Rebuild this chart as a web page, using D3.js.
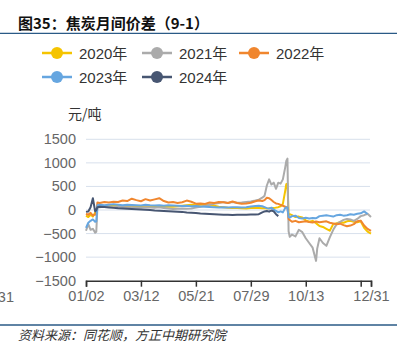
<!DOCTYPE html>
<html><head><meta charset="utf-8">
<script src="https://cdn.jsdelivr.net/npm/d3@7"></script>
<style>
html,body{margin:0;padding:0;background:#fff;}
svg{display:block;font-family:"Liberation Sans","Noto Sans CJK SC",sans-serif;}
</style></head>
<body><svg id="c" width="405" height="350"></svg>
<script>
// trading-day index within the year
const days = [0,2,4,6,8,9,10,12,16,20,24,28,32,36,40,44,48,52,56,60,64,68,72,76,80,84,88,92,96,100,104,108,112,116,120,124,128,132,136,140,144,148,151,154,156,158,160,162,164,166,168,170,172,174,175,176,177,178,180,183,186,189,192,195,198,201,202,204,207,210,213,216,219,222,225,228,231,234,237,240,243,246,249];
const y2020 = [-120,-150,-100,-140,-60,-80,80,90,85,80,90,85,80,90,85,80,75,85,80,75,80,70,75,70,80,90,100,110,100,110,115,110,90,70,60,50,45,40,35,30,40,45,40,35,40,30,35,45,40,50,60,80,130,400,550,560,-100,-90,-110,-150,-140,-160,-220,-250,-230,-280,-300,-340,-360,-400,-440,-300,-280,-260,-270,-240,-230,-250,-260,-240,-380,-460,-500];
const y2021 = [-440,-300,-420,-400,-480,-460,70,60,80,70,60,70,65,60,60,55,50,60,55,50,60,40,30,20,25,30,25,30,50,70,90,110,130,150,170,150,170,155,160,170,180,200,220,260,300,520,650,540,580,450,580,560,650,900,1040,1090,-450,-570,-520,-560,-420,-470,-600,-700,-800,-1080,-820,-600,-700,-760,-580,-420,-300,-250,-210,-190,-200,-230,-190,-130,-110,-80,-150];
const y2022 = [-80,-100,-60,-120,-90,-100,160,150,170,160,175,170,200,190,240,210,185,230,200,225,250,190,160,170,150,165,200,175,135,140,130,160,150,170,165,150,180,150,135,140,155,185,200,190,210,260,250,210,170,140,130,110,90,70,60,50,-190,-210,-250,-230,-260,-250,-240,-255,-265,-245,-250,-260,-250,-240,-270,-285,-300,-290,-320,-345,-330,-300,-240,-225,-330,-400,-445];
const y2023 = [-380,-270,-230,-200,-250,-240,100,110,100,110,120,110,100,110,105,100,95,110,100,95,100,90,100,95,90,85,90,80,85,75,70,65,60,55,60,55,60,60,55,60,75,85,90,80,60,40,30,50,10,-20,-50,-30,-50,40,60,50,-150,-160,-130,-120,-170,-180,-165,-180,-170,-175,-160,-130,-120,-110,-125,-140,-110,-100,-120,-110,-90,-100,-80,-70,-30,-85,null];
const y2024 = [-40,-30,60,250,-30,0,60,70,65,55,45,35,30,25,20,15,10,5,0,-10,-15,-20,-25,-30,-35,-40,-55,-60,-65,-75,-80,-85,-90,-95,-100,-100,-105,-100,-100,-100,-95,-95,-90,-50,-30,-20,-35,-10,-30,-90,-130,null,null,null,null,null,null,null,null,null,null,null,null,null,null,null,null,null,null,null,null,null,null,null,null,null,null,null,null,null,null,null,null];
const seriesNames = ["2020年","2021年","2022年","2023年","2024年"];
const seriesColors = ["#F5C400","#ABABAB","#F0862E","#66A6E0","#475672"];
const yTicks = [1500,1000,500,0,-500,-1000,-1500];
const xTickDays = [0,48,96,144,192,240,249];
const xTickLabels = ["01/02","03/12","05/21","07/29","10/13","","12/31"];

const seriesValues = [y2020,y2021,y2022,y2023,y2024];
const svg = d3.select("#c");

// title + rules
svg.append("text").attr("x",18).attr("y",28.5).attr("font-size",15).attr("font-weight",700)
  .attr("font-family","'Noto Sans CJK SC',sans-serif").attr("fill","#111").text("图35：焦炭月间价差（9-1）");
svg.append("line").attr("x1",0).attr("x2",397).attr("y1",33.3).attr("y2",33.3).attr("stroke","#2A5A86").attr("stroke-width",1.3);
svg.append("line").attr("x1",0).attr("x2",397).attr("y1",325).attr("y2",325).attr("stroke","#2A5A86").attr("stroke-width",1.3);
svg.append("text").attr("x",18).attr("y",339.5).attr("font-size",13).attr("font-style","italic")
  .attr("font-family","'Noto Sans CJK SC',sans-serif").attr("fill","#333")
  .text("资料来源：同花顺，方正中期研究院");

// legend
const legPos = [[42,53],[142,53],[239,53],[42,77],[142,77]];
seriesNames.forEach((n,i)=>{
  const [lx,ly] = legPos[i];
  const g = svg.append("g");
  g.append("line").attr("x1",lx).attr("x2",lx+30).attr("y1",ly).attr("y2",ly).attr("stroke",seriesColors[i]).attr("stroke-width",2.5);
  g.append("circle").attr("cx",lx+15).attr("cy",ly).attr("r",6).attr("fill",seriesColors[i]);
  g.append("text").attr("x",lx+37).attr("y",ly+5.5).attr("font-size",15).attr("fill","#333")
    .attr("font-family","'Liberation Sans','Noto Sans CJK SC',sans-serif").text(n);
});

// scales
const x = d3.scaleLinear().domain([0,249]).range([86,371]);
const y = d3.scaleLinear().domain([-1500,1500]).range([280.7,139.3]);

// grid
svg.append("g").selectAll("line").data(yTicks.filter(t=>t>-1500)).join("line")
  .attr("x1",86).attr("x2",370).attr("y1",d=>y(d)).attr("y2",d=>y(d))
  .attr("stroke","#D8E0EC").attr("stroke-width",1);

// y labels
svg.append("g").selectAll("text").data(yTicks).join("text")
  .attr("x",76).attr("y",d=>y(d)+5).attr("text-anchor","end").attr("font-size",14.5).attr("fill","#666")
  .text(d=>d<0?"\u2212"+Math.abs(d):d);
svg.append("text").attr("x",68).attr("y",119).attr("font-size",14).attr("fill","#333")
  .attr("font-family","'Noto Sans CJK SC',sans-serif").text("元/吨");

// series
const line = d3.line().defined(d=>d[1]!=null).x(d=>x(d[0])).y(d=>y(d[1]));
seriesValues.forEach((vals,i)=>{
  const pts = days.map((dd,k)=>[dd,vals[k]]);
  svg.append("path").datum(pts).attr("d",line).attr("fill","none")
    .attr("stroke",seriesColors[i]).attr("stroke-width",2).attr("stroke-linejoin","round");
});

// x axis
const xAxis = d3.axisBottom(x).tickValues(xTickDays).tickFormat((d,i)=>xTickLabels[i]).tickSize(6).tickPadding(4);
const ga = svg.append("g").attr("transform","translate(0,280.7)").call(xAxis);
ga.select(".domain").attr("stroke","#333").attr("stroke-width",1.5);
ga.selectAll(".tick line").attr("stroke","#333").attr("stroke-width",1.5);
ga.selectAll(".tick text").attr("font-size",14.5).attr("fill","#666").attr("font-family","'Liberation Sans',sans-serif");
// label partly outside the left edge, as in the reference
svg.append("text").attr("x",14).attr("y",302).attr("text-anchor","end").attr("font-size",14.5).attr("fill","#666").text("12/31");
</script></body></html>
